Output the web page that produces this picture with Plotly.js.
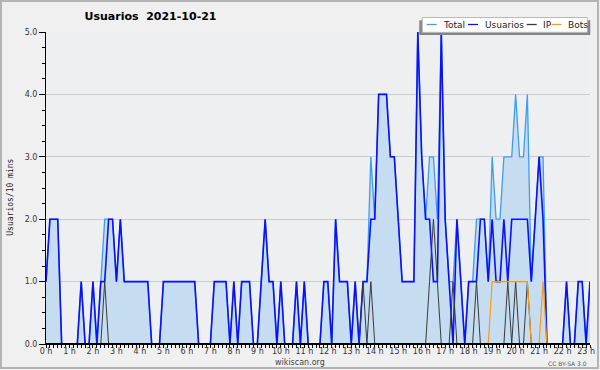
<!DOCTYPE html>
<html><head><meta charset="utf-8">
<script src="https://cdn.plot.ly/plotly-3.0.1.min.js"></script>
<style>html,body{margin:0;padding:0;background:#fff;} #chart{width:600px;height:370px;}</style>
</head><body><div id="chart"></div>
<script>
// 10-minute slots from 00:00 to 23:10 (index i -> i*10 minutes)
const usuarios = [
 1,2,2,2,0,0,0,0,0,1,
 0,0,1,0,1,1,2,2,1,2,
 1,1,1,1,1,1,1,0,0,0,
 1,1,1,1,1,1,1,1,1,0,
 0,0,0,1,1,1,1,0,1,0,
 1,1,1,0,0,1,2,1,1,0,
 1,0,0,0,1,0,1,0,0,0,
 0,1,1,0,2,1,1,1,0,1,
 0,1,1,2,2,4,4,4,3,3,
 2,1,1,1,1,5,3,2,2,1,
 1,5,2,1,0,2,1,0,1,1,
 1,2,2,1,2,1,1,2,1,2,
 2,2,2,2,1,2,3,2,0,0,
 0,0,0,1,0,0,1,1,0,1];
const total = [
 1,2,2,2,0,0,0,0,0,1,
 0,0,1,0,1,2,2,2,1,2,
 1,1,1,1,1,1,1,0,0,0,
 1,1,1,1,1,1,1,1,1,0,
 0,0,0,1,1,1,1,0,1,0,
 1,1,1,0,0,1,2,1,1,0,
 1,0,0,0,1,0,1,0,0,0,
 0,1,1,0,2,1,1,1,0,1,
 0,1,1,3,2,4,4,4,3,3,
 2,1,1,1,1,5,3,2,3,3,
 2,5,2,1,1,2,1,0,1,1,
 2,2,2,1,3,2,2,3,3,3,
 4,3,3,4,1,2,3,3,0,0,
 0,0,0,1,0,0,1,1,0,1];
const ip = [
 0,0,0,0,0,0,0,0,0,0,
 0,0,0,0,0,1,0,0,0,0,
 0,0,0,0,0,0,0,0,0,0,
 0,0,0,0,0,0,0,0,0,0,
 0,0,0,0,0,0,0,0,0,0,
 0,0,0,0,0,0,0,0,0,0,
 0,0,0,0,0,0,0,0,0,0,
 0,0,0,0,0,0,0,0,0,0,
 0,1,0,1,0,0,0,0,0,0,
 0,0,0,0,0,0,0,0,1,2,
 1,0,0,0,1,0,0,0,0,0,
 1,0,0,0,0,0,0,0,1,0,
 1,0,0,1,0,0,0,0,0,0,
 0,0,0,0,0,0,0,0,0,0];
const bots = [
 0,0,0,0,0,0,0,0,0,0,
 0,0,0,0,0,0,0,0,0,0,
 0,0,0,0,0,0,0,0,0,0,
 0,0,0,0,0,0,0,0,0,0,
 0,0,0,0,0,0,0,0,0,0,
 0,0,0,0,0,0,0,0,0,0,
 0,0,0,0,0,0,0,0,0,0,
 0,0,0,0,0,0,0,0,0,0,
 0,0,0,0,0,0,0,0,0,0,
 0,0,0,0,0,0,0,0,0,0,
 0,0,0,0,0,0,0,0,0,0,
 0,0,0,0,1,1,1,1,1,1,
 1,1,1,1,0,0,0,1,0,0,
 0,0,0,0,0,0,0,0,0,0];
const hourLabels = ["0 h","1 h","2 h","3 h","4 h","5 h","6 h","7 h","8 h","9 h","10 h","11 h",
 "12 h","13 h","14 h","15 h","16 h","17 h","18 h","19 h","20 h","21 h","22 h","23 h"];
const seriesNames = ["Total","Usuarios","IP","Bots"];
const seriesColors = ["#3d9df5","#0a10ff","#3a3a3a","#ff9a10"];

const x = usuarios.map((_, i) => i / 6);
const tickvals = x.slice();
const ticktext = x.map((v, i) => (i % 6 === 0 ? hourLabels[i / 6] : ""));

const L = 46, R = 10, T = 32, B = 26, Wd = 600, Ht = 370;
const PW = Wd - L - R, PH = Ht - T - B;
const px = p => (p - L) / PW;
const py = p => (Ht - B - p) / PH;

const traces = [
  {x: x, y: total, mode: "lines", fill: "tozeroy", fillcolor: "#c6dcf0",
   line: {color: seriesColors[0], width: 1.3}, name: seriesNames[0]},
  {x: x, y: usuarios, mode: "lines", line: {color: seriesColors[1], width: 1.6}, name: seriesNames[1]},
  {x: x, y: ip, mode: "lines", line: {color: seriesColors[2], width: 1}, name: seriesNames[2]},
  {x: x, y: bots, mode: "lines", line: {color: seriesColors[3], width: 1.2}, name: seriesNames[3]}
];

const shapes = [
  {type: "rect", xref: "paper", yref: "paper", x0: px(1), x1: px(598), y0: py(368), y1: py(1),
   line: {color: "#b4b4b4", width: 2}, fillcolor: "rgba(0,0,0,0)", layer: "below"},
  {type: "line", xref: "x", yref: "y", x0: 0, x1: x[x.length - 1], y0: 0, y1: 0,
   line: {color: "#000", width: 2.2}, layer: "above"},
  {type: "rect", xref: "paper", yref: "paper", x0: px(419.3), x1: px(590.3), y0: py(35), y1: py(20.3),
   line: {width: 0}, fillcolor: "#858585", layer: "above"},
  {type: "rect", xref: "paper", yref: "paper", x0: px(422.3), x1: px(587.3), y0: py(32.3), y1: py(17.5),
   line: {color: "#b8b8b8", width: 1}, fillcolor: "#ffffff", layer: "above"}
];
const legendLineX = [426.7, 468, 526.7, 551.7];
const legendTextX = [442, 483.5, 541.5, 566.5];
const annotations = [];
for (let k = 0; k < 4; k++) {
  shapes.push({type: "line", xref: "paper", yref: "paper", x0: px(legendLineX[k]), x1: px(legendLineX[k] + 10),
    y0: py(24.5), y1: py(24.5), line: {color: seriesColors[k], width: 1.3}, layer: "above"});
  annotations.push({xref: "paper", yref: "paper", x: px(legendTextX[k]), y: py(24.8), xanchor: "left", yanchor: "middle",
    text: seriesNames[k], showarrow: false, borderpad: 0, font: {family: "DejaVu Sans", size: 9, color: "#222"}});
}
annotations.push({xref: "paper", yref: "paper", x: px(9.7), y: py(197), xanchor: "center", yanchor: "middle",
  text: "Usuarios/10 mins", textangle: -90, showarrow: false, font: {family: "DejaVu Sans Mono", size: 8, color: "#222"}});
annotations.push({xref: "paper", yref: "paper", x: px(300), y: py(362.5), xanchor: "center", yanchor: "middle",
  text: "wikiscan.org", showarrow: false, borderpad: 0, font: {family: "DejaVu Sans", size: 8, color: "#444"}});
annotations.push({xref: "paper", yref: "paper", x: px(588), y: py(363), xanchor: "right", yanchor: "middle",
  text: "CC BY-SA 3.0", showarrow: false, borderpad: 0, font: {family: "DejaVu Sans", size: 6, color: "#555"}});

const layout = {
  width: 600, height: 370,
  margin: {l: L, r: R, t: T, b: B, pad: 0},
  paper_bgcolor: "#f0f0f0", plot_bgcolor: "#eeeff1",
  showlegend: false,
  title: {text: "Usuarios\u00a0\u00a02021-10-21", x: 150.5 / 600, xref: "container", xanchor: "center",
          y: 1 - 16.5 / 370, yref: "container", yanchor: "middle",
          font: {family: "DejaVu Sans", size: 11, color: "#000", weight: "bold"}},
  xaxis: {range: [0, x[x.length - 1]], tickmode: "array", tickvals: tickvals, ticktext: ticktext,
          ticks: "outside", ticklen: 3, tickwidth: 1, tickcolor: "#000", ticklabelstandoff: -4,
          showline: true, linecolor: "#000", linewidth: 1, showgrid: false, zeroline: false,
          tickfont: {family: "DejaVu Sans", size: 8, color: "#333"}, fixedrange: true},
  yaxis: {range: [0, 5], tickmode: "linear", tick0: 0, dtick: 1, tickformat: ".1f",
          ticks: "outside", ticklen: 6, tickwidth: 1, tickcolor: "#000",
          minor: {dtick: 0.25, tick0: 0, ticks: "outside", ticklen: 3, tickcolor: "#000", showgrid: false},
          showline: true, linecolor: "#000", linewidth: 1, showgrid: true, gridcolor: "#cccccc", gridwidth: 1,
          zeroline: false, tickfont: {family: "DejaVu Sans", size: 8, color: "#333"}, fixedrange: true},
  shapes: shapes, annotations: annotations
};
Plotly.newPlot("chart", traces, layout, {staticPlot: true, displayModeBar: false});
</script></body></html>
